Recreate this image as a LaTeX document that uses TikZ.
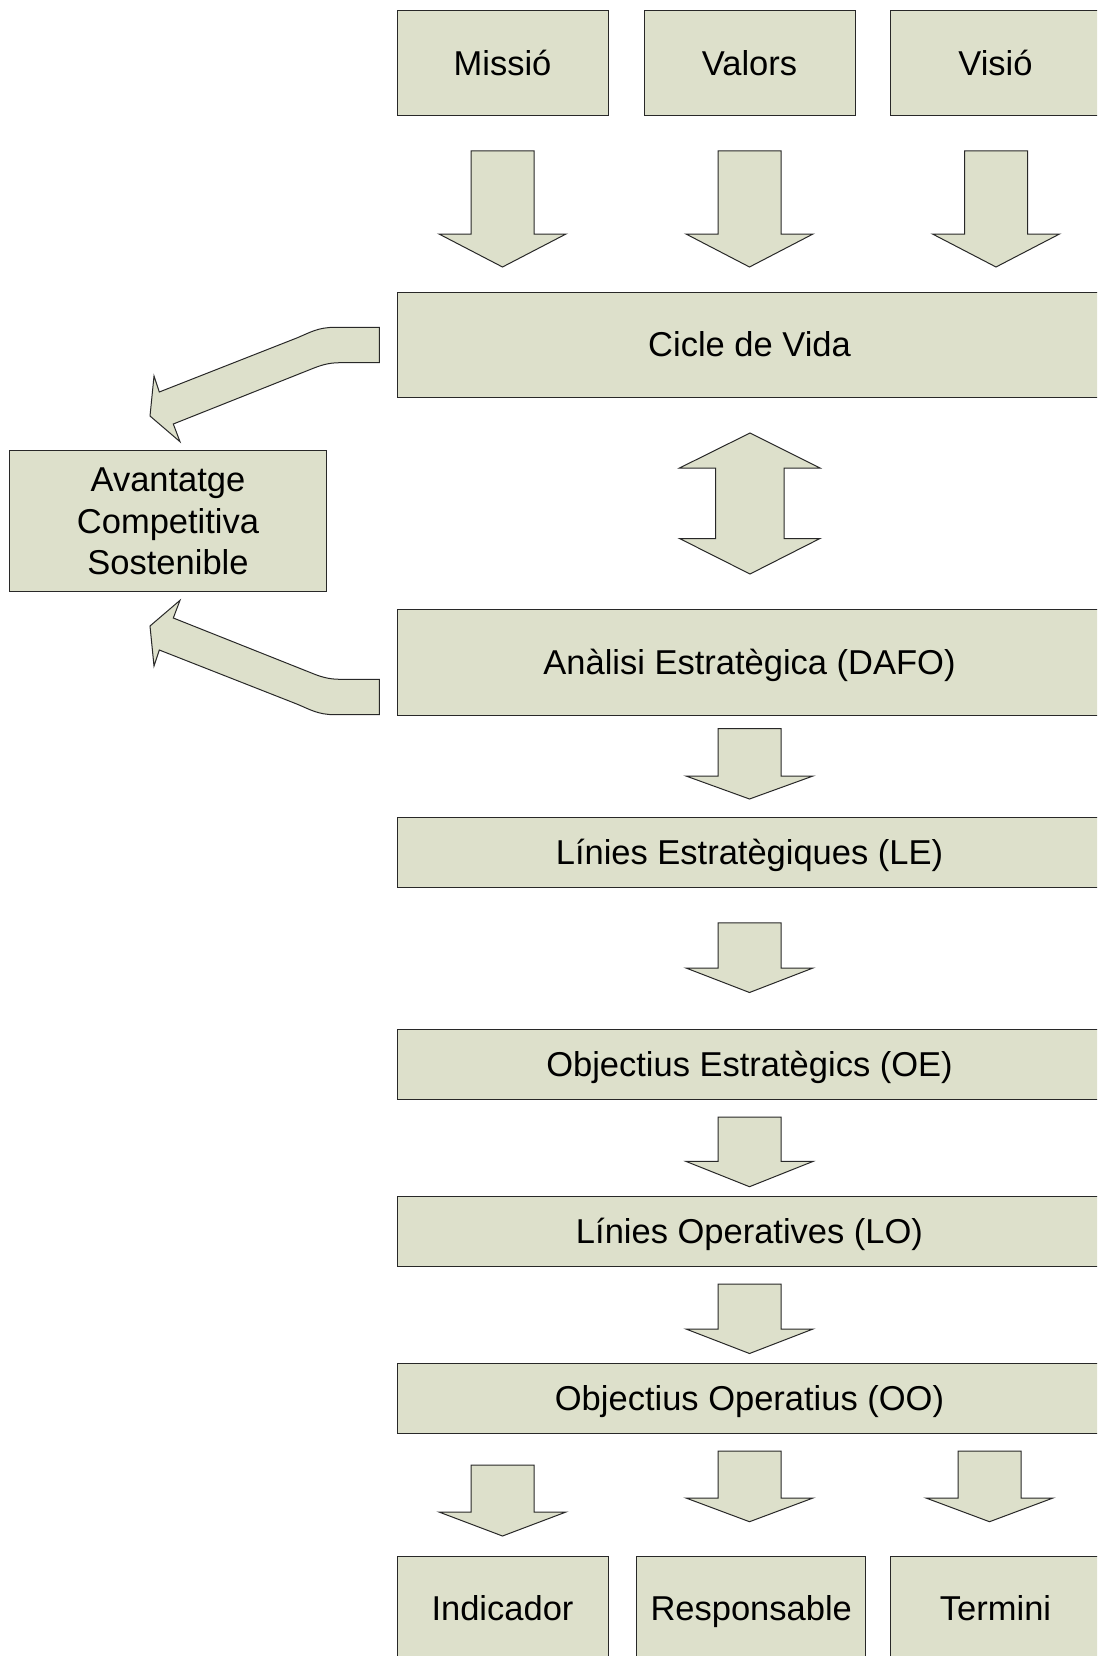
\documentclass[tikz,border=0pt]{standalone}
\usepackage{fontspec}
\setmainfont{Liberation Sans}
\definecolor{boxfill}{RGB}{221,224,203}
\definecolor{edge}{RGB}{40,40,40}
\tikzset{
  box/.style={draw=edge, fill=boxfill, line width=1pt, inner sep=0pt,
    font=\fontsize{34.5}{41.5}\selectfont, text height=24.7pt, text depth=0pt},
  blockarrow/.style={draw=edge, fill=boxfill, line width=1pt, line join=miter},
  pics/darrow/.style 2 args={code={
    \draw[blockarrow] (-31.5,0) -- (31.5,0) -- (31.5,#1) -- (63.5,#1)
      -- (0,#1+#2) -- (-63.5,#1) -- (-31.5,#1) -- cycle;}}
}
\begin{document}
\begin{tikzpicture}[x=1pt,y=-1pt]
\useasboundingbox (0,0) rectangle (1097,1656);
\fill[white] (0,0) rectangle (1097,1656);
\clip (0,0) rectangle (1097,1656);

% top row
\node[box, minimum width=211pt, minimum height=104.5pt] (missio) at (502.5,63) {Missió};
\node[box, minimum width=211pt, minimum height=104.5pt] (valors) at (749.5,63) {Valors};
\node[box, minimum width=211pt, minimum height=104.5pt] (visio) at (995.5,63) {Visió};

\pic at (502.5,151) {darrow={83}{33}};
\pic at (749.5,151) {darrow={83}{33}};
\pic at (996,151) {darrow={83}{33}};

% main column
\node[box, minimum width=705pt, minimum height=105pt] (cicle) at (749.5,344.5) {Cicle de Vida};
\node[box, minimum width=705pt, minimum height=106pt] (dafo) at (749.5,662) {Anàlisi Estratègica (DAFO)};
\node[box, minimum width=705pt, minimum height=70pt] (le) at (749.5,852) {Línies Estratègiques (LE)};
\node[box, minimum width=705pt, minimum height=69.6pt] (oe) at (749.5,1064.2) {Objectius Estratègics (OE)};
\node[box, minimum width=705pt, minimum height=70pt] (lo) at (749.5,1231) {Línies Operatives (LO)};
\node[box, minimum width=705pt, minimum height=70pt] (oo) at (749.5,1398) {Objectius Operatius (OO)};

% left box
\node[box, minimum width=317.4pt, minimum height=141.3pt, align=center, text height=, text depth=]
  (avant) at (168,521.3) {Avantatge\\Competitiva\\Sostenible};

% double arrow
\draw[blockarrow] (750,433) -- (820,468) -- (784,468) -- (784,538.5) -- (820,538.5)
  -- (750,574) -- (679.5,538.5) -- (715.5,538.5) -- (715.5,468) -- (679.5,468) -- cycle;

% column arrows
\pic at (749.5,728.5) {darrow={47.5}{23}};
\pic at (749.5,922.8) {darrow={45.2}{24.5}};
\pic at (749.5,1117) {darrow={44.4}{25.3}};
\pic at (749.5,1284) {darrow={45}{24.5}};

% bottom arrows
\pic at (502.5,1465) {darrow={47}{24}};
\pic at (749.5,1451) {darrow={47}{23.7}};
\pic at (989.5,1451) {darrow={47}{23.7}};

% bottom row
\node[box, minimum width=211pt, minimum height=104.5pt] (indic) at (502.5,1608.3) {Indicador};
\node[box, minimum width=229pt, minimum height=104.5pt] (resp) at (751.2,1608.3) {Responsable};
\node[box, minimum width=211pt, minimum height=104.5pt] (term) at (995.5,1608.3) {Termini};

% curved arrows towards the left box
\draw[blockarrow] (379.3,327.3) -- (335,327.3) .. controls (318,327.3) and (310,332.5) .. (297,337.9)
  -- (159.3,392) -- (154,376) -- (150,416) -- (180,441.7) -- (173.3,424)
  -- (310,369.6) .. controls (320,365.5) and (328,362.7) .. (340,362.7) -- (379.3,362.7) -- cycle;
\draw[blockarrow] (379.3,714.7) -- (335,714.7) .. controls (318,714.7) and (310,709.5) .. (297,704.1)
  -- (159.3,650) -- (154,666) -- (150,626) -- (180,600.3) -- (173.3,618)
  -- (310,672.4) .. controls (320,676.5) and (328,679.3) .. (340,679.3) -- (379.3,679.3) -- cycle;
\end{tikzpicture}
\end{document}
